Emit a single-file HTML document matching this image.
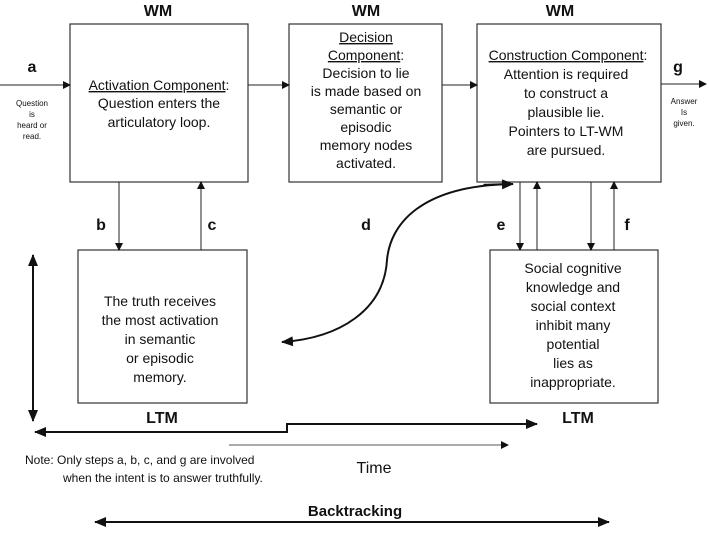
<!DOCTYPE html>
<html><head><style>
body{margin:0;width:709px;height:528px;background:#fff;overflow:hidden;font-family:"Liberation Sans",sans-serif;}
svg text{font-family:"Liberation Sans",sans-serif;fill:#111}
</style></head><body>
<svg width="709" height="528" viewBox="0 0 709 528">
<defs>
<marker id="ah" markerWidth="8" markerHeight="8" refX="7" refY="4" orient="auto" markerUnits="userSpaceOnUse"><path d="M0,0 L8,4 L0,8 z" fill="#111"/></marker>
<marker id="ahb" markerWidth="12" markerHeight="10" refX="11" refY="5" orient="auto" markerUnits="userSpaceOnUse"><path d="M0,0 L12,5 L0,10 z" fill="#111"/></marker>
<marker id="ahbs" markerWidth="12" markerHeight="10" refX="1" refY="5" orient="auto" markerUnits="userSpaceOnUse"><path d="M12,0 L0,5 L12,10 z" fill="#111"/></marker>
</defs>
<g fill="none" stroke="#333" stroke-width="1.2">
<rect x="70" y="24" width="178" height="158"/>
<rect x="289" y="24" width="153" height="158"/>
<rect x="477" y="24" width="184" height="158"/>
<rect x="78" y="250" width="169" height="153"/>
<rect x="490" y="250" width="168" height="153"/>
</g>
<g stroke="#222" stroke-width="1" fill="none">
<line x1="0" y1="85" x2="70" y2="85" marker-end="url(#ah)"/>
<line x1="248" y1="85" x2="289" y2="85" marker-end="url(#ah)"/>
<line x1="442" y1="85" x2="477" y2="85" marker-end="url(#ah)"/>
<line x1="661" y1="84" x2="706" y2="84" marker-end="url(#ah)"/>
<line x1="119" y1="182" x2="119" y2="250" marker-end="url(#ah)"/>
<line x1="201" y1="250" x2="201" y2="182" marker-end="url(#ah)"/>
<line x1="520" y1="182" x2="520" y2="250" marker-end="url(#ah)"/>
<line x1="537" y1="250" x2="537" y2="182" marker-end="url(#ah)"/>
<line x1="591" y1="182" x2="591" y2="250" marker-end="url(#ah)"/>
<line x1="614" y1="250" x2="614" y2="182" marker-end="url(#ah)"/>
<line x1="229" y1="445" x2="508" y2="445" stroke="#555" marker-end="url(#ah)"/>
</g>
<g stroke="#111" stroke-width="2" fill="none">
<path d="M513,184 C420,185 390,225 387,260 C384,310 340,338 282,342" marker-end="url(#ahb)"/>
<path d="M513,184 C470,185 480,185 513,184" marker-end="url(#ahb)"/>
<line x1="33" y1="255" x2="33" y2="421" marker-start="url(#ahbs)" marker-end="url(#ahb)" />
<polyline points="35,432 287,432 287,424 537,424" marker-start="url(#ahbs)" marker-end="url(#ahb)"/>
<line x1="95" y1="522" x2="609" y2="522" marker-start="url(#ahbs)" marker-end="url(#ahb)"/>
</g>
<g font-weight="bold" font-size="16" text-anchor="middle">
<text x="158" y="16">WM</text>
<text x="366" y="16">WM</text>
<text x="560" y="16">WM</text>
<text x="32" y="72">a</text>
<text x="678" y="72">g</text>
<text x="101" y="230">b</text>
<text x="212" y="230">c</text>
<text x="366" y="230">d</text>
<text x="501" y="230">e</text>
<text x="627" y="230">f</text>
<text x="162" y="423">LTM</text>
<text x="578" y="423">LTM</text>
<text x="355" y="516" font-size="15">Backtracking</text>
</g>
<g font-size="14" text-anchor="middle">
<text x="159" y="90"><tspan text-decoration="underline">Activation Component</tspan>:</text>
<text x="159" y="108">Question enters the</text>
<text x="159" y="127">articulatory loop.</text>
<text x="366" y="42" text-decoration="underline">Decision</text>
<text x="366" y="60"><tspan text-decoration="underline">Component</tspan>:</text>
<text x="366" y="78">Decision to lie</text>
<text x="366" y="96">is made based on</text>
<text x="366" y="114">semantic or</text>
<text x="366" y="132">episodic</text>
<text x="366" y="150">memory nodes</text>
<text x="366" y="168">activated.</text>
<text x="568" y="60"><tspan text-decoration="underline">Construction Component</tspan>:</text>
<text x="566" y="79">Attention is required</text>
<text x="566" y="98">to construct a</text>
<text x="566" y="117">plausible lie.</text>
<text x="566" y="136">Pointers to LT-WM</text>
<text x="566" y="155">are pursued.</text>
<text x="160" y="306">The truth receives</text>
<text x="160" y="325">the most activation</text>
<text x="160" y="344">in semantic</text>
<text x="160" y="363">or episodic</text>
<text x="160" y="382">memory.</text>
<text x="573" y="273">Social cognitive</text>
<text x="573" y="292">knowledge and</text>
<text x="573" y="311">social context</text>
<text x="573" y="330">inhibit many</text>
<text x="573" y="349">potential</text>
<text x="573" y="368">lies as</text>
<text x="573" y="387">inappropriate.</text>
<text x="374" y="473" font-size="16">Time</text>
</g>
<g font-size="8" text-anchor="middle">
<text x="32" y="106">Question</text>
<text x="32" y="117">is</text>
<text x="32" y="128">heard or</text>
<text x="32" y="139">read.</text>
<text x="684" y="104">Answer</text>
<text x="684" y="115">Is</text>
<text x="684" y="126">given.</text>
</g>
<g font-size="12">
<text x="25" y="464">Note: Only steps a, b, c, and g are involved</text>
<text x="63" y="482">when the intent is to answer truthfully.</text>
</g>
</svg>
</body></html>
